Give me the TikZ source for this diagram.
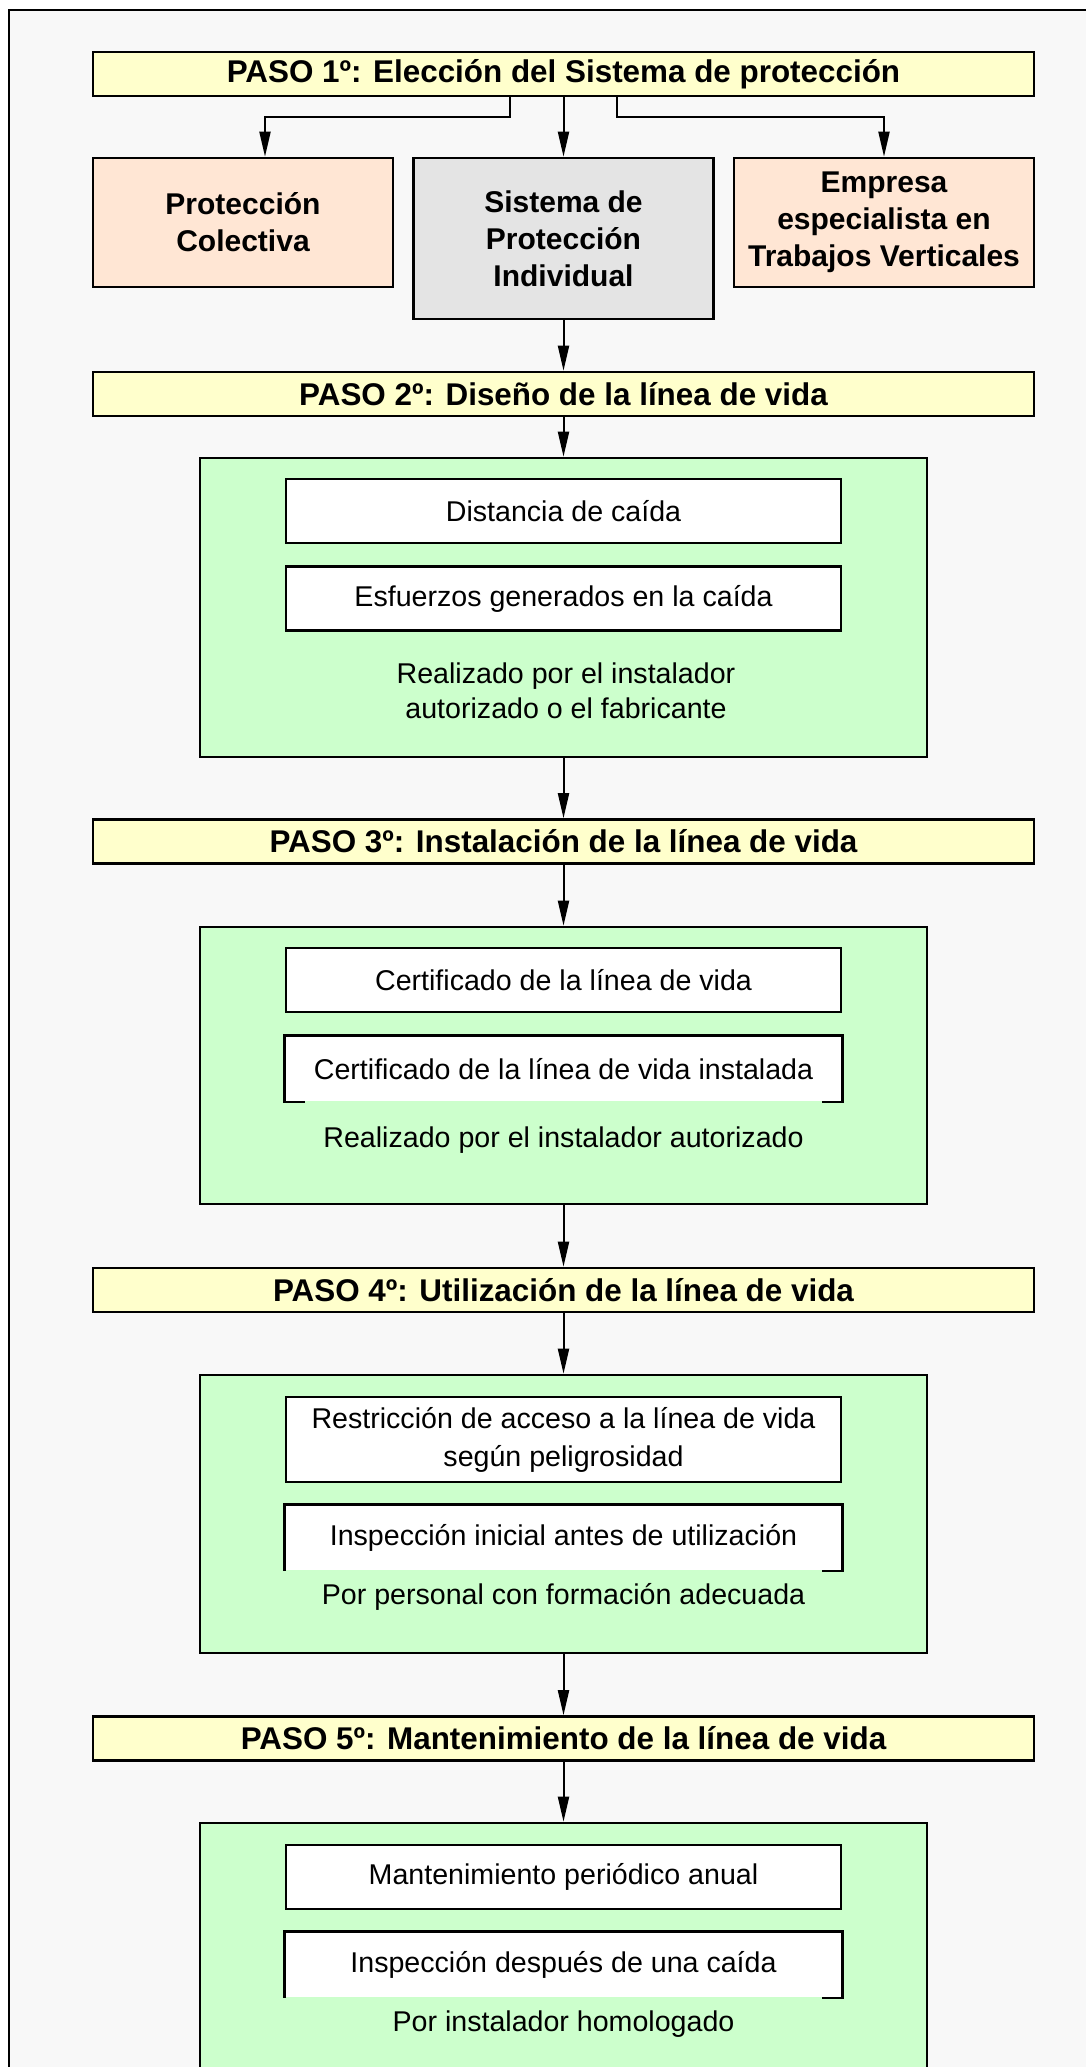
\documentclass[tikz,border=0pt]{standalone}
\usepackage{fontspec}
\setmainfont{Liberation Sans}
\usetikzlibrary{positioning, arrows.meta}

\definecolor{framegray}{HTML}{F8F8F8}
\definecolor{pasoyellow}{HTML}{FFFFCC}
\definecolor{peach}{HTML}{FFE6D4}
\definecolor{sysgray}{HTML}{E4E4E4}
\definecolor{lifegreen}{HTML}{CCFFCC}

\tikzset{
  paso/.style={rectangle, draw, line width=1.3pt, fill=pasoyellow, minimum width=470.5pt,
    minimum height=22pt, inner sep=0pt, font=\fontsize{15.7}{18}\selectfont\bfseries},
  choice/.style={rectangle, draw, line width=1.3pt, minimum width=150pt, inner sep=0pt,
    align=center, font=\fontsize{15}{18.4}\selectfont\bfseries},
  stage/.style={rectangle, draw, line width=1.3pt, fill=lifegreen, minimum width=363.5pt, inner sep=0pt},
  item/.style={rectangle, draw, line width=1.3pt, fill=white, minimum width=277.5pt,
    minimum height=32pt, inner sep=0pt, align=center, font=\fontsize{14.3}{19}\selectfont},
  openitem/.style={item, draw=none},
  note/.style={align=center, font=\fontsize{14.3}{17.5}\selectfont},
  flow/.style={-{Triangle[length=12.5pt,width=5.5pt]}, line width=1pt},
}

\begin{document}
\begin{tikzpicture}[x=0.5pt, y=-0.5pt]
        \useasboundingbox (0,0) rectangle (1086,2067);
        \fill[white] (0,0) rectangle (1086,2067);
        % Frame (open to the right and bottom)
        \fill[framegray] (9.3,10) rectangle (1100,2100);
        \draw[line width=0.9pt] (1100,10) -- (9.3,10) -- (9.3,2100);

        % Paso 1
        \node (paso1) [paso] at (563.5,74) {PASO 1º: Elección del Sistema de protección};
        \node (col) [choice, fill=peach, minimum height=64.5pt] at (243,222.5) {Protección\\Colectiva};
        \node (sis) [choice, fill=sysgray, minimum height=80.5pt] at (563.5,238.5) {Sistema de\\Protección\\Individual};
        \node (emp) [choice, fill=peach, minimum height=64.5pt] at (884,222.5) {Empresa\\especialista en\\Trabajos Verticales};
        \draw[flow] ([xshift=-26.75pt]paso1.south) -- ++(0,-10pt) -| ([xshift=11pt]col.north);
        \draw[flow] (paso1) -- (sis);
        \draw[flow] ([xshift=26.75pt]paso1.south) -- ++(0,-10pt) -| (emp.north);

        % Paso 2
        \node (paso2) [paso] at (563.5,394) {PASO 2º: Diseño de la línea de vida};
        \draw[flow] (sis) -- (paso2);
        \node (fase2) [stage, minimum height=149.5pt] at (563.5,607.5) {};
        \node (d1) [item, below=10.5pt of fase2.north] {Distancia de caída};
        \node (d2) [item, below=10.5pt of d1] {Esfuerzos generados en la caída};
        \node (n2) [note] at (566,691) {Realizado por el instalador\\autorizado o el fabricante};
        \draw[flow] (paso2) -- (fase2);

        % Paso 3
        \node (paso3) [paso] at (563.5,841.5) {PASO 3º: Instalación de la línea de vida};
        \draw[flow] (fase2) -- (paso3);
        \node (fase3) [stage, minimum height=138.5pt] at (563.5,1065.5) {};
        \node (c1) [item, below=10.5pt of fase3.north] {Certificado de la línea de vida};
        \node (c2) [openitem, below=11pt of c1] {Certificado de la línea de vida instalada};
        \draw[line width=1.3pt] ([xshift=10pt]c2.south west) -- (c2.south west) -- (c2.north west)
            -- (c2.north east) -- (c2.south east) -- ([xshift=-10pt]c2.south east);
        \node (n3) [note] at (563.5,1140) {Realizado por el instalador autorizado};
        \draw[flow] (paso3) -- (fase3);

        % Paso 4
        \node (paso4) [paso] at (563.5,1290) {PASO 4º: Utilización de la línea de vida};
        \draw[flow] (fase3) -- (paso4);
        \node (fase4) [stage, minimum height=139pt] at (563.5,1514) {};
        \node (u1) [item, minimum height=42.5pt, below=11pt of fase4.north] {Restricción de acceso a la línea de vida\\según peligrosidad};
        \node (u2) [openitem, below=10.5pt of u1] {Inspección inicial antes de utilización};
        \draw[line width=1.3pt] (u2.south west) -- (u2.north west) -- (u2.north east)
            -- (u2.south east) -- ([xshift=-10pt]u2.south east);
        \node (n4) [note] at (563.5,1597) {Por personal con formación adecuada};
        \draw[flow] (paso4) -- (fase4);

        % Paso 5
        \node (paso5) [paso] at (563.5,1738.5) {PASO 5º: Mantenimiento de la línea de vida};
        \draw[flow] (fase4) -- (paso5);
        \node (fase5) [stage, minimum height=139pt] at (563.5,1962) {};
        \node (m1) [item, below=11pt of fase5.north] {Mantenimiento periódico anual};
        \node (m2) [openitem, below=10.5pt of m1] {Inspección después de una caída};
        \draw[line width=1.3pt] (m2.south west) -- (m2.north west) -- (m2.north east)
            -- (m2.south east) -- ([xshift=-10pt]m2.south east);
        \node (n5) [note] at (563.5,2024) {Por instalador homologado};
        \draw[flow] (paso5) -- (fase5);
\end{tikzpicture}
\end{document}
